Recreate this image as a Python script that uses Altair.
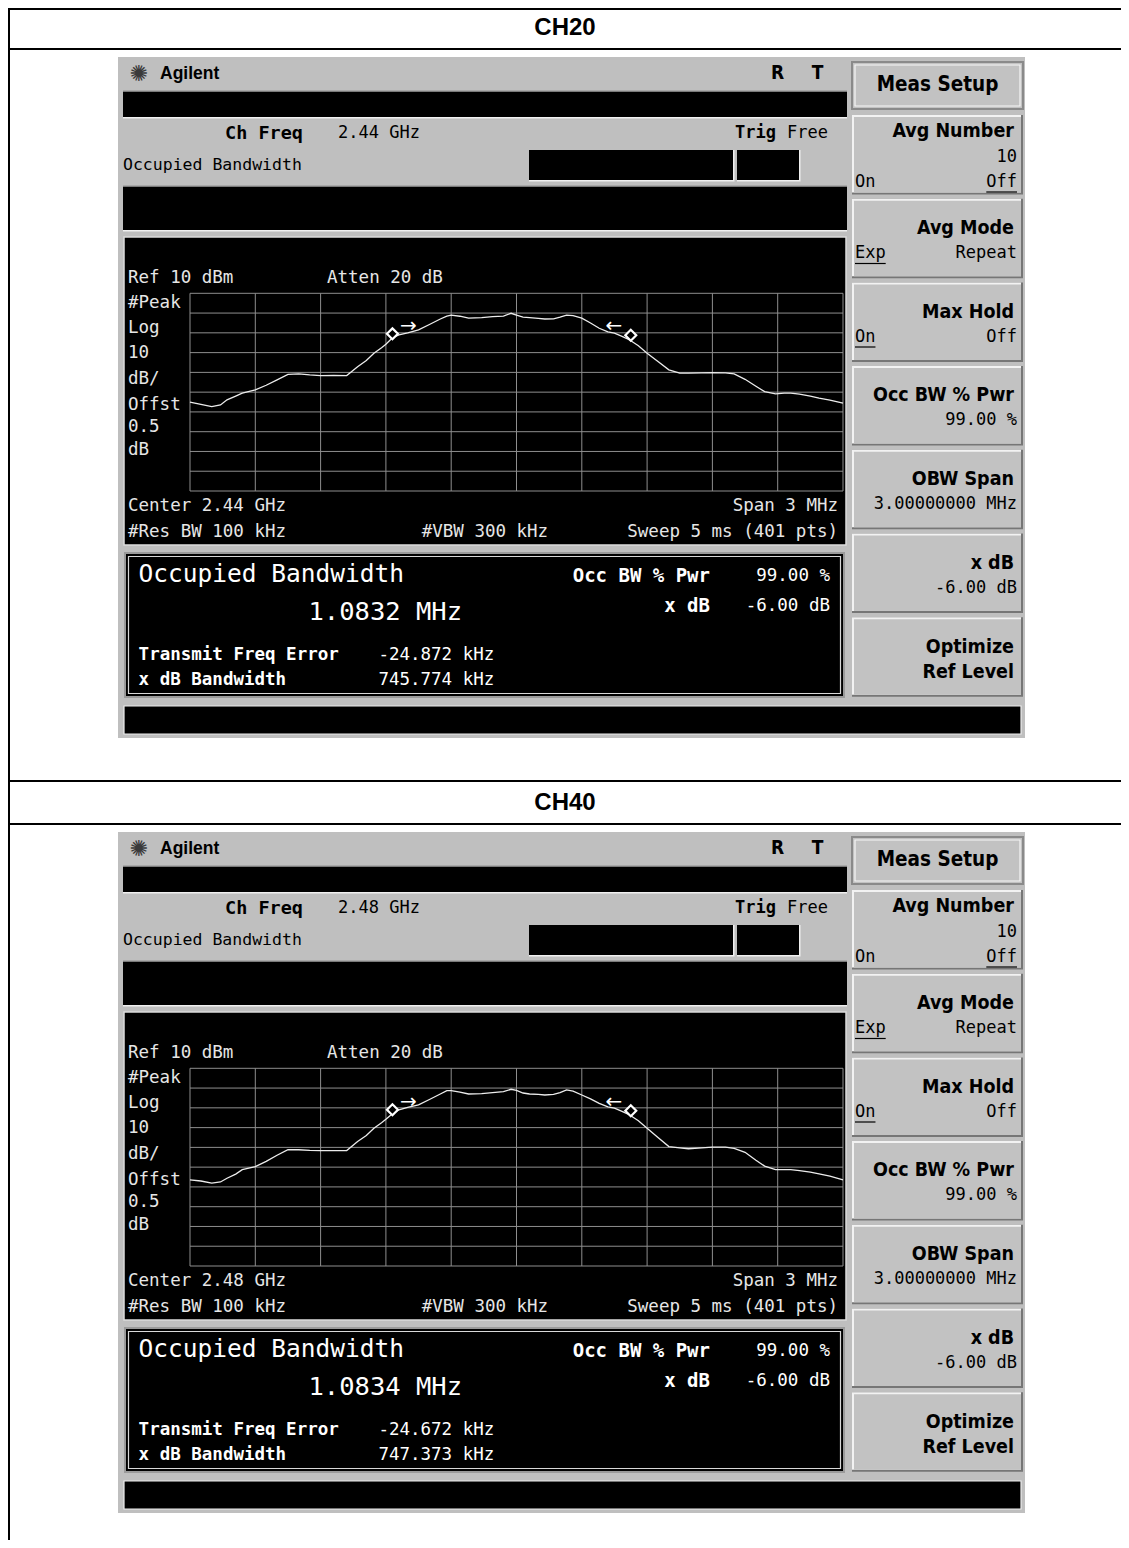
import altair as alt
import pandas as pd

# ---------------- data ----------------
freq_offset_mhz = [-1.50, -1.45, -1.40, -1.36, -1.33, -1.29, -1.26, -1.20, -1.15, -1.10,
                   -1.05, -1.00, -0.95, -0.90, -0.84, -0.78, -0.73, -0.69, -0.655, -0.62,
                   -0.60, -0.57, -0.54, -0.50, -0.45, -0.40, -0.35, -0.32, -0.30, -0.26,
                   -0.22, -0.16, -0.11, -0.06, -0.025, 0.0, 0.03, 0.06, 0.10, 0.13,
                   0.17, 0.20, 0.23, 0.26, 0.30, 0.34, 0.38, 0.42, 0.45, 0.49,
                   0.52, 0.56, 0.60, 0.65, 0.70, 0.75, 0.79, 0.85, 0.90, 0.96,
                   1.00, 1.05, 1.10, 1.14, 1.19, 1.23, 1.26, 1.30, 1.35, 1.39,
                   1.44, 1.50]

ch20_dbm = [-45.0, -46.2, -47.3, -46.5, -43.9, -42.0, -40.5, -38.8, -36.5, -33.8,
            -31.0, -30.8, -31.3, -31.6, -31.5, -31.6, -27.1, -24.0, -20.3, -17.5,
            -15.8, -12.5, -11.0, -10.0, -8.5, -5.8, -3.0, -1.5, -1.0, -1.6,
            -2.6, -2.3, -1.8, -1.5, -0.1, -1.0, -2.0, -2.3, -2.7, -3.0,
            -2.9, -2.1, -1.0, -1.3, -2.6, -5.0, -7.7, -9.5, -10.2, -12.0,
            -13.6, -16.5, -20.3, -24.5, -28.7, -30.4, -30.4, -30.3, -30.2, -30.3,
            -30.8, -33.5, -37.0, -39.7, -40.9, -40.5, -40.5, -41.0, -42.0, -43.0,
            -44.0, -45.6]

ch40_dbm = [-46.4, -47.0, -48.1, -47.5, -45.6, -43.5, -41.3, -39.7, -37.1, -34.0,
            -31.2, -31.2, -31.5, -31.6, -31.6, -31.6, -27.0, -24.0, -20.3, -17.5,
            -15.8, -13.0, -11.0, -9.8, -8.5, -5.8, -3.0, -1.3, -1.3, -2.0,
            -3.0, -2.8, -2.3, -1.8, -0.6, -1.2, -2.5, -3.0, -3.2, -3.5,
            -3.2, -2.3, -0.9, -1.5, -3.5, -5.5, -7.7, -9.5, -10.2, -12.0,
            -13.6, -16.5, -20.3, -25.0, -29.6, -30.2, -30.7, -30.3, -29.9, -29.9,
            -30.5, -32.5, -36.5, -39.5, -41.3, -41.3, -41.3, -41.8, -42.5, -43.4,
            -44.5, -46.4]

marker_freq = [-0.570, 0.525]
ch20_marker_dbm = [-10.5, -11.2]
ch40_marker_dbm = [-11.0, -11.5]

grid_freq = [-1.5, -1.2, -0.9, -0.6, -0.3, 0.0, 0.3, 0.6, 0.9, 1.2, 1.5]
grid_dbm = [10, 0, -10, -20, -30, -40, -50, -60, -70, -80, -90]

channel_titles = ["CH20", "CH40"]
center_freqs = ["2.44 GHz", "2.48 GHz"]
occupied_bw = ["1.0832 MHz", "1.0834 MHz"]
transmit_freq_error = ["-24.872 kHz", "-24.672 kHz"]
xdb_bandwidth = ["745.774 kHz", "747.373 kHz"]

# ---------------- styling ----------------
MONO = "DejaVu Sans Mono"
COND = "DejaVu Sans Condensed, DejaVu Sans"
ARIAL = "Liberation Sans"
GRAY = "#bfbfbf"
FACE = "#c2c2c2"
TXT_ON_BLACK = "#e6e6e6"

ONE = pd.DataFrame({"k": [0]})

XS = alt.Scale(domain=[-1.5, 1.5], range=[182, 835], nice=False, zero=False)
YS = alt.Scale(domain=[-90, 10], range=[483, 285.3], nice=False, zero=False)


def rect(x0, y0, x1, y1, fill, stroke=None, sw=0):
    kw = {}
    if fill is None:
        kw["fillOpacity"] = 0
        kw["fill"] = "#000000"
    else:
        kw["fill"] = fill
    if stroke is not None:
        kw["stroke"] = stroke
        kw["strokeWidth"] = sw
    else:
        kw["strokeWidth"] = 0
    return alt.Chart(ONE).mark_rect(**kw).encode(
        x=alt.value(x0), x2=alt.value(x1), y=alt.value(y0), y2=alt.value(y1))


def txt(s, x, y, size, color="#000000", font=MONO, weight="normal", align="left"):
    return alt.Chart(ONE).mark_text(
        text=s, font=font, fontSize=size, fontWeight=weight, color=color,
        align=align, baseline="middle").encode(x=alt.value(x), y=alt.value(y))


def hline(x0, x1, y, color="#000000", w=1.2):
    return alt.Chart(ONE).mark_rule(color=color, strokeWidth=w).encode(
        x=alt.value(x0), x2=alt.value(x1), y=alt.value(y))


def softkey(y0, h=79.5, x0=844, x1=1015):
    y1 = y0 + h
    return [rect(x0, y0, x1, y1, "#767676"),
            rect(x0, y0, x1 - 2, y1 - 2, "#f2f2f2"),
            rect(x0 + 2, y0 + 2, x1 - 2, y1 - 2, FACE)]


def block(i, trace, mk_dbm, height, bottom_line):
    L = []
    # outer table frame
    if i == 0:
        L.append(rect(0, 0, 1113, 2, "#000000"))
    if bottom_line:
        L.append(rect(0, 772, 1113, 774, "#000000"))
    L.append(rect(0, 40, 1113, 42, "#000000"))
    L.append(rect(0, 0, 2, height, "#000000"))
    L.append(txt(channel_titles[i], 557, 20, 24, font=ARIAL, weight="bold", align="center"))

    # instrument screen
    L.append(rect(110, 49, 1017, 730, GRAY))
    L.append(txt("\u273a", 131, 66, 22, color="#3a3a3a", font="DejaVu Sans", align="center"))
    L.append(txt("Agilent", 152, 66, 17.5, font=ARIAL, weight="bold"))
    L.append(txt("R", 769.5, 64.5, 19, font=COND, weight="bold", align="center"))
    L.append(txt("T", 809.5, 64.5, 19, font=COND, weight="bold", align="center"))
    L.append(rect(115, 82.5, 839, 110.5, "#f0f0f0"))
    L.append(rect(115, 82.5, 839, 84, "#7a7a7a"))
    L.append(rect(115, 84, 839, 109, "#000000"))
    L.append(txt("Ch Freq", 217, 125, 18.5, font=MONO, weight="bold"))
    L.append(txt(center_freqs[i], 330, 125, 17, font=MONO))
    L.append(txt("Trig", 727, 125, 17, font=MONO, weight="bold"))
    L.append(txt("Free", 779, 125, 17, font=MONO))
    L.append(txt("Occupied Bandwidth", 115, 157, 16.5, font=MONO))
    L.append(rect(521, 142, 726.5, 173.5, "#f0f0f0"))
    L.append(rect(521, 142, 725, 172, "#000000"))
    L.append(rect(729, 142, 792.5, 173.5, "#f0f0f0"))
    L.append(rect(729, 142, 791, 172, "#000000"))
    L.append(rect(115, 177.5, 839, 223.5, "#f0f0f0"))
    L.append(rect(115, 177.5, 839, 179, "#7a7a7a"))
    L.append(rect(115, 179, 839, 222, "#000000"))

    # spectrum display area
    L.append(rect(116, 229, 838, 537, "#000000", stroke="#dcdcdc", sw=1.5))
    L.append(txt("Ref 10 dBm", 120, 269.5, 17.5, TXT_ON_BLACK))
    L.append(txt("Atten 20 dB", 319, 269.5, 17.5, TXT_ON_BLACK))
    for s, y in [("#Peak", 295.3), ("Log", 320.3), ("10", 345.3), ("dB/", 371),
                 ("Offst", 397), ("0.5", 419.3), ("dB", 442)]:
        L.append(txt(s, 120, y, 17.5, TXT_ON_BLACK))
    L.append(txt("Center " + center_freqs[i], 120, 497.5, 17.5, TXT_ON_BLACK))
    L.append(txt("Span 3 MHz", 830, 497.5, 17.5, TXT_ON_BLACK, align="right"))
    L.append(txt("#Res BW 100 kHz", 120, 523.7, 17.5, TXT_ON_BLACK))
    L.append(txt("#VBW 300 kHz", 413.7, 523.7, 17.5, TXT_ON_BLACK))
    L.append(txt("Sweep 5 ms (401 pts)", 830, 523.7, 17.5, TXT_ON_BLACK, align="right"))

    # graticule through the data scales
    gv = pd.DataFrame({"f": grid_freq})
    L.append(alt.Chart(gv).mark_rule(color="#8e8e8e", strokeWidth=1).encode(
        x=alt.X("f:Q", scale=XS, axis=None),
        y=alt.YDatum(-90, scale=YS, axis=None), y2=alt.datum(10)))
    gh = pd.DataFrame({"dbm": grid_dbm})
    L.append(alt.Chart(gh).mark_rule(color="#8e8e8e", strokeWidth=1).encode(
        y=alt.Y("dbm:Q", scale=YS, axis=None),
        x=alt.XDatum(-1.5, scale=XS, axis=None), x2=alt.datum(1.5)))

    # trace
    tr = pd.DataFrame({"f": freq_offset_mhz, "dbm": trace})
    L.append(alt.Chart(tr).mark_line(color="#ececec", strokeWidth=1.3).encode(
        x=alt.X("f:Q", scale=XS, axis=None), y=alt.Y("dbm:Q", scale=YS, axis=None)))

    # OBW markers
    mk = pd.DataFrame({"f": marker_freq, "dbm": mk_dbm})
    L.append(alt.Chart(mk).mark_point(shape="diamond", size=120, filled=True, fill="#000000",
                                      stroke="#ffffff", strokeWidth=2.2, opacity=1).encode(
        x=alt.X("f:Q", scale=XS, axis=None), y=alt.Y("dbm:Q", scale=YS, axis=None)))
    mkl = pd.DataFrame({"f": marker_freq[:1], "dbm": mk_dbm[:1]})
    mkr = pd.DataFrame({"f": marker_freq[1:], "dbm": mk_dbm[1:]})
    L.append(alt.Chart(mkl).mark_text(text="\u2192", font="DejaVu Sans", fontSize=20,
                                      color="#ffffff", dx=16, dy=-8).encode(
        x=alt.X("f:Q", scale=XS, axis=None), y=alt.Y("dbm:Q", scale=YS, axis=None)))
    L.append(alt.Chart(mkr).mark_text(text="\u2190", font="DejaVu Sans", fontSize=20,
                                      color="#ffffff", dx=-17, dy=-9).encode(
        x=alt.X("f:Q", scale=XS, axis=None), y=alt.Y("dbm:Q", scale=YS, axis=None)))

    # measurement result box
    L.append(rect(117, 545, 836, 689, "#000000", stroke="#9a9a9a", sw=2))
    L.append(rect(120.5, 548.5, 832.5, 685.5, None, stroke="#d8d8d8", sw=1.2))
    L.append(txt("Occupied Bandwidth", 130.6, 567, 24.5, "#ffffff"))
    L.append(txt(occupied_bw[i], 300.5, 603.7, 25.5, "#ffffff"))
    L.append(txt("Occ BW % Pwr", 702, 568, 19, "#ffffff", weight="bold", align="right"))
    L.append(txt("99.00 %", 822, 568, 17.5, "#ffffff", align="right"))
    L.append(txt("x dB", 702, 597.8, 19, "#ffffff", weight="bold", align="right"))
    L.append(txt("-6.00 dB", 822, 597.8, 17.5, "#ffffff", align="right"))
    L.append(txt("Transmit Freq Error", 130.6, 647, 17.5, "#ffffff", weight="bold"))
    L.append(txt(transmit_freq_error[i], 370.4, 647, 17.5, "#ffffff"))
    L.append(txt("x dB Bandwidth", 130.6, 672, 17.5, "#ffffff", weight="bold"))
    L.append(txt(xdb_bandwidth[i], 370.4, 672, 17.5, "#ffffff"))

    # bottom status bar
    L.append(rect(116, 698, 1013, 726, "#000000", stroke="#ededed", sw=1.2))

    # softkeys
    L.append(rect(844, 54, 1015, 101, FACE, stroke="#8a8a8a", sw=2))
    L.append(rect(847, 57, 1012, 98, None, stroke="#f6f6f6", sw=1.2))
    L.append(txt("Meas Setup", 929.5, 77, 20.5, font=COND, weight="bold", align="center"))
    tops = [107, 190.7, 274.4, 358.1, 441.8, 525.5, 609.2]
    for t in tops:
        L.extend(softkey(t))
    RL, RS, LS = 1006, 1009, 847
    SK = 19.5
    SM = 17
    CW = SM * 0.602
    L.append(txt("Avg Number", RL, 123, SK, font=COND, weight="bold", align="right"))
    L.append(txt("10", RS, 149, SM, align="right"))
    L.append(txt("On", LS, 173.5, SM))
    L.append(txt("Off", RS, 173.5, SM, align="right"))
    L.append(hline(RS - 3 * CW, RS, 184))
    L.append(txt("Avg Mode", RL, 220, SK, font=COND, weight="bold", align="right"))
    L.append(txt("Exp", LS, 245, SM))
    L.append(hline(LS, LS + 3 * CW, 255.5))
    L.append(txt("Repeat", RS, 245, SM, align="right"))
    L.append(txt("Max Hold", RL, 303.7, SK, font=COND, weight="bold", align="right"))
    L.append(txt("On", LS, 328.7, SM))
    L.append(hline(LS, LS + 2 * CW, 339))
    L.append(txt("Off", RS, 328.7, SM, align="right"))
    L.append(txt("Occ BW % Pwr", RL, 387.4, SK, font=COND, weight="bold", align="right"))
    L.append(txt("99.00 %", RS, 412.4, SM, align="right"))
    L.append(txt("OBW Span", RL, 471, SK, font=COND, weight="bold", align="right"))
    L.append(txt("3.00000000 MHz", RS, 496, SM, align="right"))
    L.append(txt("x dB", RL, 554.8, SK, font=COND, weight="bold", align="right"))
    L.append(txt("-6.00 dB", RS, 579.8, SM, align="right"))
    L.append(txt("Optimize", RL, 638.5, SK, font=COND, weight="bold", align="right"))
    L.append(txt("Ref Level", RL, 663.5, SK, font=COND, weight="bold", align="right"))

    return alt.layer(*L).properties(width=1113, height=height)


b1 = block(0, ch20_dbm, ch20_marker_dbm, 775, True)
b2 = block(1, ch40_dbm, ch40_marker_dbm, 757, False)

chart = alt.vconcat(b1, b2, spacing=0).properties(padding=0).configure_view(stroke=None)
chart.save("out.html", embed_options={"renderer": "svg", "actions": False})
